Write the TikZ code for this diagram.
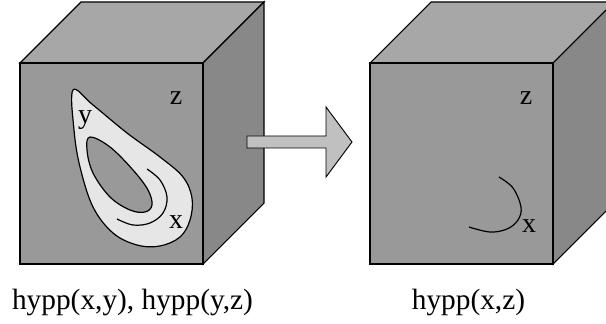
\documentclass[tikz,border=0pt]{standalone}
\usepackage{fontspec}
\setmainfont{Liberation Serif}
\definecolor{frontgray}{RGB}{153,153,153}
\definecolor{topgray}{RGB}{167,167,167}
\definecolor{sidegray}{RGB}{136,136,136}
\definecolor{dropfill}{RGB}{230,230,230}
\definecolor{arrowfill}{RGB}{192,192,192}
\begin{document}
\begin{tikzpicture}[x=0.75pt,y=-0.75pt,
  edge/.style={draw=black,line width=0.8pt,line join=miter},
  lbl/.style={inner sep=0pt,font=\fontsize{21}{24}\selectfont},
  captxt/.style={inner sep=0pt,anchor=base,font=\fontsize{22}{26}\selectfont},
  curv/.style={draw=black,line width=0.9pt}]
\useasboundingbox (0,0) rectangle (606,324);
\begin{scope}
\clip (0,0) rectangle (606,324);
% left cube
\filldraw[edge,fill=topgray] (20,63) -- (81,2) -- (264,2) -- (203,63) -- cycle;
\filldraw[edge,fill=sidegray] (203,63) -- (264,2) -- (264,203) -- (203,264) -- cycle;
\filldraw[edge,fill=frontgray] (20,63) rectangle (203,264);
% teardrop
\filldraw[curv,fill=dropfill] plot[smooth cycle,tension=0.6] coordinates {
 (73,90) (93,105) (127,133) (160,157) (183,177) (192,198) (190,220) (180,237)
 (160,246) (137,245) (113,233) (93,207) (80,167) (74,130)};
\filldraw[curv,fill=frontgray] plot[smooth cycle,tension=0.6] coordinates {
 (90,137) (110,147) (133,170) (148,190) (152,205) (145,212) (130,210) (110,197)
 (93,173) (87,150)};
\draw[curv] plot[smooth,tension=0.6] coordinates {
 (147,169) (160,180) (167,197) (163,213) (150,223) (133,225) (117,219)};
\node[lbl] (y1) at (85,120) {y};
\node[lbl] (z1) at (176,98) {z};
\node[lbl] (x1) at (176,222) {x};
% right cube
\filldraw[edge,fill=topgray] (370,63) -- (431,2) -- (614,2) -- (553,63) -- cycle;
\filldraw[edge,fill=sidegray] (553,63) -- (614,2) -- (614,203) -- (553,264) -- cycle;
\filldraw[edge,fill=frontgray] (370,63) rectangle (553,264);
\draw[curv] plot[smooth,tension=0.6] coordinates {
 (499,177) (513,188) (521,207) (518,220) (507,229) (490,232) (469,227)};
\node[lbl] (z2) at (526,98) {z};
\node[lbl] (x2) at (529,226) {x};
% arrow
\filldraw[draw=black,line width=0.7pt,fill=arrowfill]
 (247,136) -- (326,136) -- (326,107) -- (352,142) -- (326,177) -- (326,148) -- (247,148) -- cycle;
\end{scope}
\node[captxt] (c1) at (132.5,309) {hypp(x,y), hypp(y,z)};
\node[captxt] (c2) at (468.5,309) {hypp(x,z)};
\end{tikzpicture}
\end{document}
